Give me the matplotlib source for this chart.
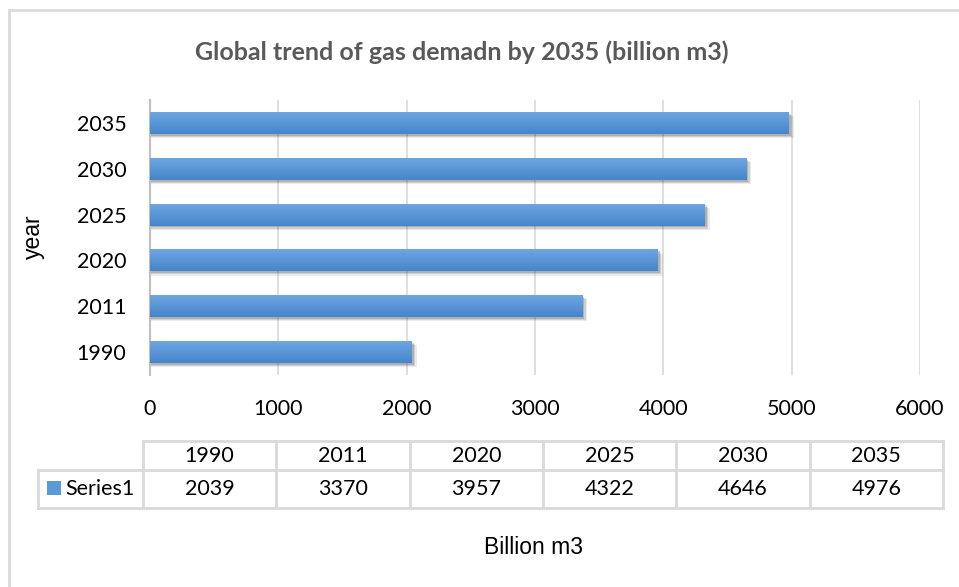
import matplotlib
matplotlib.use("Agg")
import matplotlib.pyplot as plt
import numpy as np
from matplotlib.lines import Line2D
from matplotlib.patches import Rectangle
from matplotlib.colors import LinearSegmentedColormap

years = ["1990", "2011", "2020", "2025", "2030", "2035"]
values = [2039, 3370, 3957, 4322, 4646, 4976]
xticks = [0, 1000, 2000, 3000, 4000, 5000, 6000]
title = "Global trend of gas demadn by 2035 (billion m3)"
series_name = "Series1"

W, H = 959, 587
fig = plt.figure(figsize=(W / 100, H / 100), dpi=100)
fig.patch.set_facecolor("white")

def fx(px):
    return px / W

def fy(py):
    return 1 - py / H

body = ["Lato", "DejaVu Sans"]
arial = ["Liberation Sans", "DejaVu Sans"]
FS = 15.5

# outer chart border (top and left visible)
fig.add_artist(Line2D([fx(9), fx(959)], [fy(10), fy(10)], color="#D9D9D9", lw=2))
fig.add_artist(Line2D([fx(9), fx(9)], [fy(10), fy(587)], color="#D9D9D9", lw=2))

ax = fig.add_axes([fx(150), fy(375), fx(920) - fx(150), fy(100) - fy(375)])
for s in ["top", "right", "bottom"]:
    ax.spines[s].set_visible(False)
ax.spines["left"].set_color("#BFBFBF")
ax.spines["left"].set_linewidth(1.5)
ax.set_xticks(xticks)
ax.set_xticklabels([str(t) for t in xticks], fontfamily=body, fontsize=FS)
ax.set_yticks(range(len(years)))
ax.set_yticklabels(years, fontfamily=body, fontsize=FS)
ax.tick_params(axis="x", length=0, pad=17)
ax.tick_params(axis="y", length=0, pad=17)
ax.grid(axis="x", color="#D9D9D9", lw=1.2)
ax.set_axisbelow(True)

bh = 0.48
grad = np.linspace(0, 1, 64).reshape(-1, 1)
cmap = LinearSegmentedColormap.from_list("g", ["#4585CC", "#6EA6E0"])
for i, v in enumerate(values):
    # shadow
    for k, a in enumerate([0.22, 0.16, 0.10]):
        off = 0.04 + 0.025 * k
        ax.add_patch(Rectangle((0, i - bh / 2 - off), v + 15 + 12 * k, bh, color="#404040",
                               alpha=a, lw=0, zorder=2))
    im = ax.imshow(grad, extent=(0, v, i - bh / 2, i + bh / 2), aspect="auto",
                   cmap=cmap, origin="lower", zorder=3, interpolation="bilinear")
    r = Rectangle((0, i - bh / 2), v, bh, facecolor="none", edgecolor="none", zorder=3)
    ax.add_patch(r)
    im.set_clip_path(r)
ax.set_xlim(0, 6000)
ax.set_ylim(-0.5, len(years) - 0.5)

# axis title
fig.text(fx(33), fy(237), "year", rotation=90, ha="center", va="center",
         fontsize=16.5, fontfamily=arial)

# title
fig.text(fx(462), fy(52), title, ha="center", va="center", fontsize=18,
         fontweight="bold", color="#595959", fontfamily=body)

# data table
lc = "#D9D9D9"
tl, tr = 143, 943
y0, y1, y2 = 441, 470, 508
cw = (tr - tl) / len(years)
fig.add_artist(Line2D([fx(tl), fx(tr)], [fy(y0), fy(y0)], color=lc, lw=2))
fig.add_artist(Line2D([fx(38), fx(tr)], [fy(y1), fy(y1)], color=lc, lw=2))
fig.add_artist(Line2D([fx(38), fx(tr)], [fy(y2), fy(y2)], color=lc, lw=2))
fig.add_artist(Line2D([fx(38), fx(38)], [fy(y1), fy(y2)], color=lc, lw=2))
for k in range(len(years) + 1):
    x = tl + k * cw
    fig.add_artist(Line2D([fx(x), fx(x)], [fy(y0), fy(y2)], color=lc, lw=2))
for k, (yr, v) in enumerate(zip(years, values)):
    cx = tl + (k + 0.5) * cw
    fig.text(fx(cx), fy((y0 + y1) / 2), yr, ha="center", va="center",
             fontsize=FS, fontfamily=body)
    fig.text(fx(cx), fy((y1 + y2) / 2), str(v), ha="center", va="center",
             fontsize=FS, fontfamily=body)
fig.add_artist(Rectangle((fx(47), fy(495)), fx(61) - fx(47), fy(481) - fy(495),
                         facecolor="#5B9BD5", edgecolor="none", transform=fig.transFigure))
fig.text(fx(65), fy(489), series_name, ha="left", va="center", fontsize=FS, fontfamily=body)

fig.text(fx(533), fy(548), "Billion m3", ha="center", va="center", fontsize=16.5,
         fontfamily=arial)

fig.savefig("out.png", dpi=100, facecolor="white")
